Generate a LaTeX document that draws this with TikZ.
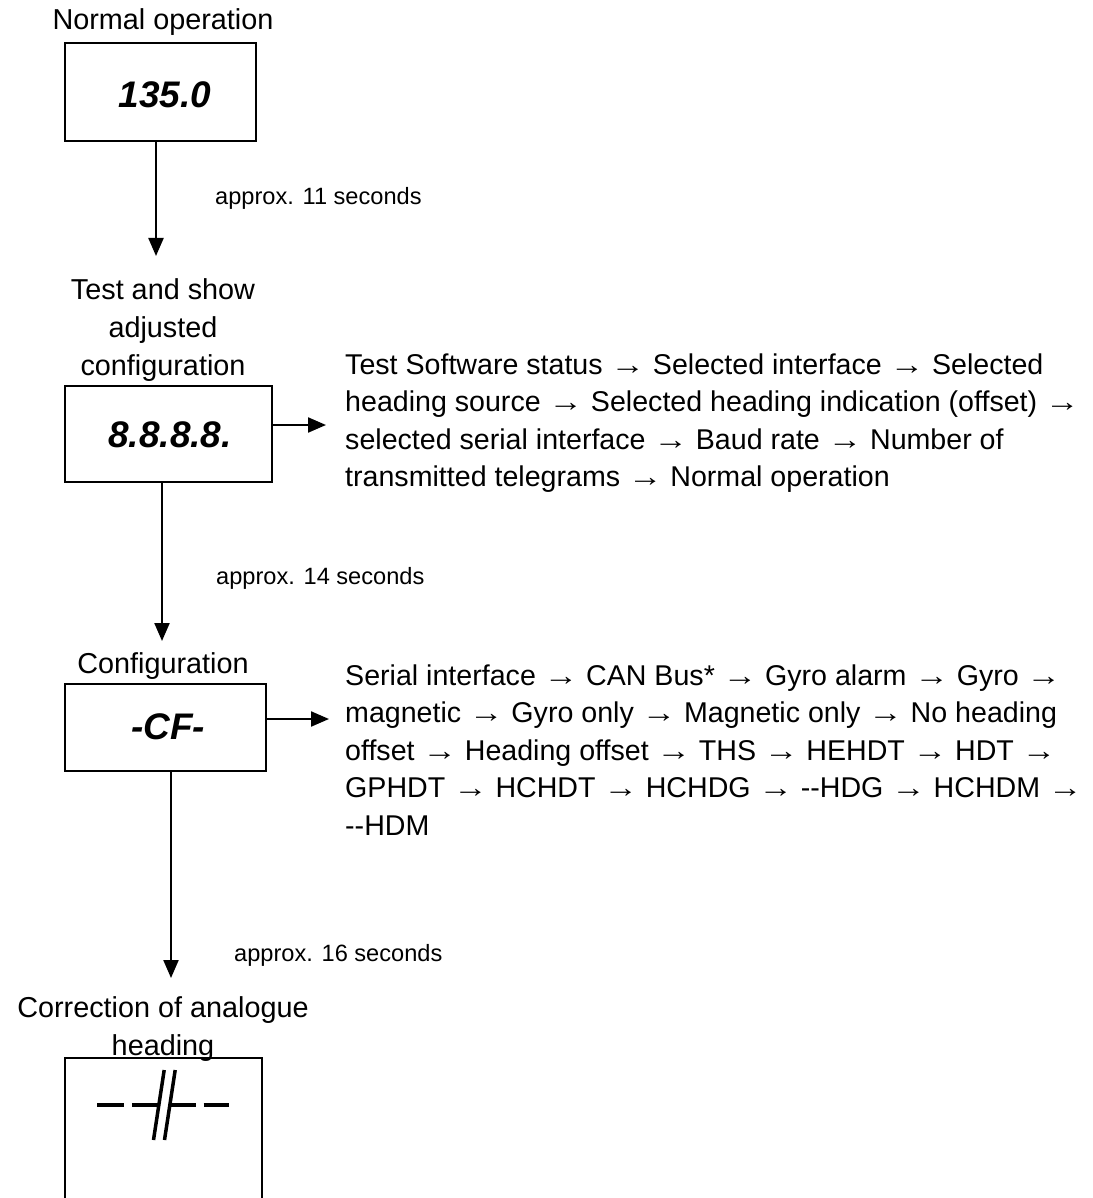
\documentclass[tikz,border=0pt]{standalone}
\usepackage{fontspec}
\usepackage{graphicx}
\setmainfont{Liberation Sans}
\newcommand\myarr{\scalebox{1.2}[1]{→}}
\usetikzlibrary{arrows.meta}
\begin{document}
\begin{tikzpicture}[x=1pt,y=-1pt,
  box/.style={draw,line width=1.9pt,inner sep=0pt},
  ttl/.style={font=\fontsize{28.8}{38}\selectfont,align=center,inner sep=0pt},
  body/.style={font=\fontsize{28.6}{37.5}\selectfont,align=left,anchor=west,inner sep=0pt},
  lbl/.style={font=\fontsize{23.6}{25}\selectfont,anchor=west,inner sep=0pt},
  disp/.style={font=\fontsize{37}{40}\selectfont\bfseries\itshape,inner sep=0pt},
  arr/.style={line width=2.2pt,-{Triangle[length=18pt,width=15pt]}},
  sym/.style={line width=4pt}]
\useasboundingbox (0,0) rectangle (1092,1198);
\clip (0,0) rectangle (1092,1198);

% titles
\node[ttl] (h1) at (163,22) {Normal operation};
\node[ttl] (h2) at (163,330) {Test and show\\adjusted\\configuration};
\node[ttl] (h3) at (163,666) {Configuration};
\node[ttl] (h4) at (163,1029) {Correction of analogue\\heading};

% boxes
\node[box,minimum width=191pt,minimum height=98pt] (b1) at (160.5,92) {};
\node[box,minimum width=207pt,minimum height=96pt] (b2) at (168.5,434) {};
\node[box,minimum width=201pt,minimum height=87pt] (b3) at (165.5,727.5) {};
\node[box,minimum width=197pt,minimum height=172pt] (b4) at (163.5,1144) {};

% display texts
\node[disp] (t1) at (165,95) {135.0};
\node[disp] (t2) at (170,435) {8.8.8.8.};
\node[disp] (t3) at (168,727) {-CF-};

% symbol in last box
\draw[sym] (97.4,1105)--(124,1105) (131.8,1105)--(160.2,1105)
           (170.2,1105)--(196,1105) (203.6,1105)--(229,1105);
\draw[line width=3.5pt] (153.5,1140)--(164.2,1070) (164.5,1140)--(175.2,1070);

% descriptions
\node[body] (d1) at (345,423) {Test Software status \myarr{} Selected interface \myarr{} Selected\\
heading source \myarr{} Selected heading indication (offset) \myarr\\
selected serial interface \myarr{} Baud rate \myarr{} Number of\\
transmitted telegrams \myarr{} Normal operation};
\node[body] (d2) at (345,750) {Serial interface \myarr{} CAN Bus* \myarr{} Gyro alarm \myarr{} Gyro \myarr\\
magnetic \myarr{} Gyro only \myarr{} Magnetic only \myarr{} No heading\\
offset \myarr{} Heading offset \myarr{} THS \myarr{} HEHDT \myarr{} HDT \myarr\\
GPHDT \myarr{} HCHDT \myarr{} HCHDG \myarr{} -\kern0pt-HDG \myarr{} HCHDM \myarr\\
-\kern0pt-HDM};

% labels
\node[lbl] (l1) at (215,198) {approx. 11 seconds};
\node[lbl] (l2) at (216,578) {approx. 14 seconds};
\node[lbl] (l3) at (234,955) {approx. 16 seconds};

% arrows
\coordinate (e1) at (156,256);
\coordinate (e2) at (162,641);
\coordinate (e3) at (171,978);
\coordinate (r1) at (326,425);
\coordinate (r2) at (329,719);
\draw[arr] (b1.south -| e1) -- (e1);
\draw[arr] (b2.south -| e2) -- (e2);
\draw[arr] (b3.south -| e3) -- (e3);
\draw[arr] (b2.east |- r1) -- (r1);
\draw[arr] (b3.east |- r2) -- (r2);
\end{tikzpicture}
\end{document}
